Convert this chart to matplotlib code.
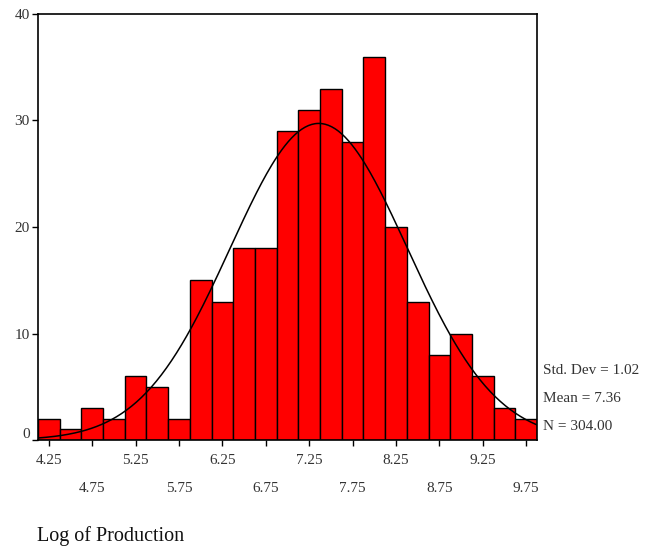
import matplotlib
matplotlib.use("Agg")
import matplotlib.pyplot as plt
import matplotlib.transforms as mtransforms
import numpy as np

# ========================= data ========================= #
bin_centers = [4.25, 4.50, 4.75, 5.00, 5.25, 5.50, 5.75, 6.00, 6.25, 6.50, 6.75, 7.00,
               7.25, 7.50, 7.75, 8.00, 8.25, 8.50, 8.75, 9.00, 9.25, 9.50, 9.75]
counts = [2, 1, 3, 2, 6, 5, 2, 15, 13, 18, 18, 29, 31, 33, 28, 36, 20, 13, 8, 10, 6, 3, 2]
std_dev = 1.02
mean = 7.36
n_obs = 304.00
bin_width = 0.25
row1_ticks = [4.25, 5.25, 6.25, 7.25, 8.25, 9.25]
row2_ticks = [4.75, 5.75, 6.75, 7.75, 8.75, 9.75]
# ======================================================== #

plt.rcParams['font.family'] = ['Liberation Serif', 'DejaVu Serif']
txt_color = '#333333'

fig = plt.figure(figsize=(6.45, 5.48), dpi=100)
ax = fig.add_axes([0.0589, 0.197, 0.7737, 0.7775])

ax.bar(bin_centers, counts, width=bin_width, color='#ff0000',
       edgecolor='black', linewidth=1.0, zorder=2)

# fitted normal curve
xs = np.linspace(bin_centers[0] - bin_width / 2, bin_centers[-1] + bin_width / 2, 300)
ys = n_obs * bin_width / (std_dev * np.sqrt(2 * np.pi)) * np.exp(-0.5 * ((xs - mean) / std_dev) ** 2)
ax.plot(xs, ys, color='black', linewidth=1.1, zorder=3)

ax.set_xlim(bin_centers[0] - bin_width / 2, bin_centers[-1] + bin_width / 2)
ax.set_ylim(0, 40)

ax.set_yticks([0, 10, 20, 30, 40])
ax.tick_params(axis='y', direction='out', length=4, width=1, labelsize=11, pad=2, labelcolor=txt_color)
# zero label sits a little above the axis line
ylabs = ax.get_yticklabels()
ylabs[0].set_transform(ylabs[0].get_transform() +
                       mtransforms.ScaledTranslation(0, 7 / 100, fig.dpi_scale_trans))

ax.set_xticks(row1_ticks)
ax.set_xticklabels([f"{t:.2f}" for t in row1_ticks])
ax.set_xticks(row2_ticks, minor=True)
ax.set_xticklabels([f"{t:.2f}" for t in row2_ticks], minor=True)
ax.tick_params(axis='x', which='major', direction='out', length=4, width=1, labelsize=11, pad=6, labelcolor=txt_color)
ax.tick_params(axis='x', which='minor', direction='out', length=4, width=1, labelsize=11, pad=26, labelcolor=txt_color)

for s in ax.spines.values():
    s.set_linewidth(1.2)

fig.text(543 / 645, 1 - 370 / 548, f"Std. Dev = {std_dev:.2f}", fontsize=11, va='center', color=txt_color)
fig.text(543 / 645, 1 - 398 / 548, f"Mean = {mean:.2f}", fontsize=11, va='center', color=txt_color)
fig.text(543 / 645, 1 - 426 / 548, f"N = {n_obs:.2f}", fontsize=11, va='center', color=txt_color)

fig.text(37 / 645, 1 - 536 / 548, "Log of Production", fontsize=14.5, va='center', color='#111111')

plt.savefig("out.png", dpi=100)
